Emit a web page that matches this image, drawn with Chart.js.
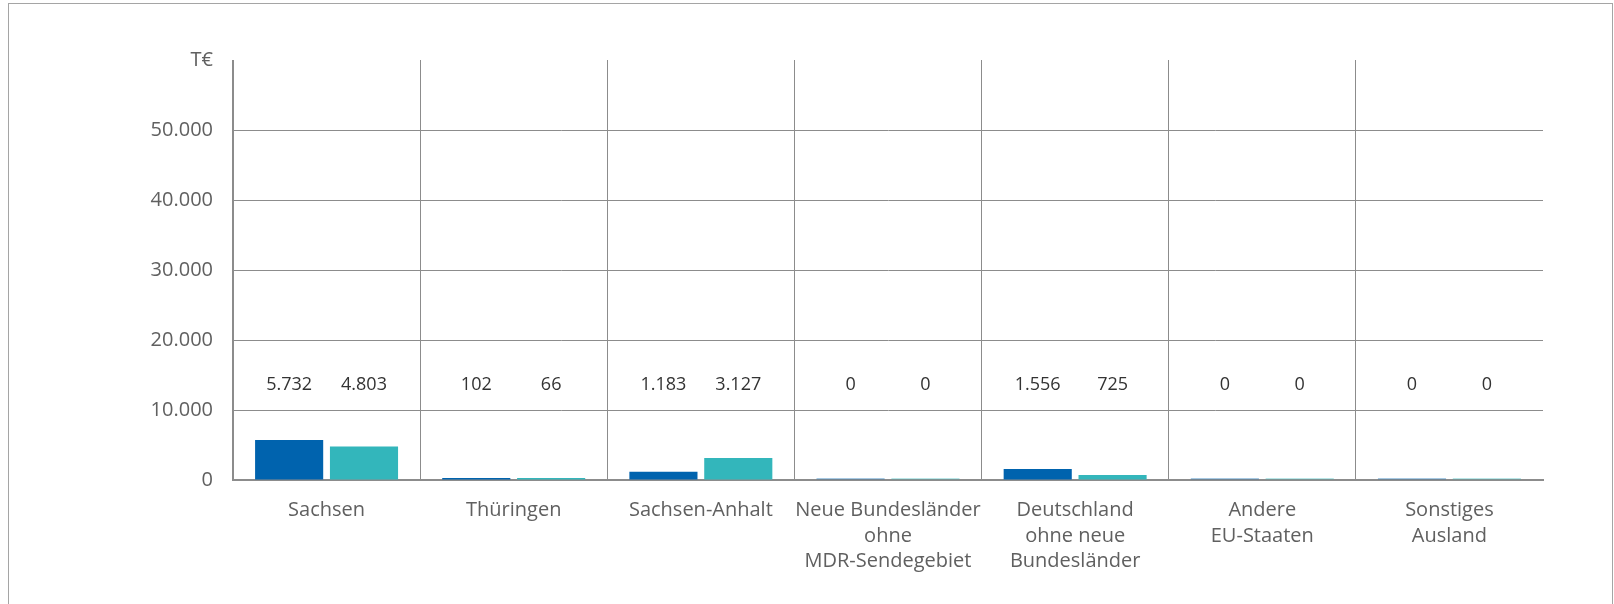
<!DOCTYPE html>
<html>
<head>
<meta charset="utf-8">
<script src="https://cdn.jsdelivr.net/npm/chart.js@4"></script>
<style>
  html, body { margin: 0; padding: 0; background: #fff; overflow: hidden; }
  #frame { position: absolute; left: 8px; top: 3px; width: 1603px; height: 640px; border: 1px solid #a5a5a5; }
  #wrap { position: absolute; left: 0; top: 0; width: 1614px; height: 604px; }
</style>
</head>
<body>
<div id="frame"></div>
<div id="wrap"><canvas id="myChart"></canvas></div>
<script>
const categories = [
    'Sachsen',
    'Thüringen',
    'Sachsen-Anhalt',
    ['Neue Bundesländer', 'ohne', 'MDR-Sendegebiet'],
    ['Deutschland', 'ohne neue', 'Bundesländer'],
    ['Andere', 'EU-Staaten'],
    ['Sonstiges', 'Ausland']
]
const seriesA = [5732, 102, 1183, 0, 1556, 0, 0]
const seriesB = [4803, 66, 3127, 0, 725, 0, 0]
const yTicks = [0, 10000, 20000, 30000, 40000, 50000, 60000]
const unitLabel = 'T€'

const fmt = (v) => v.toLocaleString('de-DE')

const gridGrey = '#8c8c8c'

// value labels in a row above the bars
const valueLabels = {
    id: 'valueLabels',
    afterDatasetsDraw(chart) {
        const ctx = chart.ctx
        const y = chart.scales.y.getPixelForValue(13600)
        ctx.save()
        ctx.font = '18px "Open Sans"'
        ctx.fillStyle = '#333'
        ctx.textAlign = 'center'
        ctx.textBaseline = 'middle'
        chart.data.datasets.forEach((ds, i) => {
            chart.getDatasetMeta(i).data.forEach((bar, j) => {
                ctx.fillText(fmt(ds.data[j]), bar.x, y)
            })
        })
        ctx.restore()
    }
}

// zero values only leave a faint trace on the baseline
const barColor = (col, faint) => (c) => c.raw === 0 ? faint : col

new Chart(document.getElementById('myChart'), {
    type: 'bar',
    data: {
        labels: categories,
        datasets: [{
            data: seriesA,
            backgroundColor: barColor('#0063ae', 'rgba(0,99,174,0.35)'),
            minBarLength: 2,
            categoryPercentage: 0.8,
            barPercentage: 0.91
        }, {
            data: seriesB,
            backgroundColor: barColor('#33b6bb', 'rgba(51,182,187,0.35)'),
            minBarLength: 2,
            categoryPercentage: 0.8,
            barPercentage: 0.91
        }]
    },
    options: {
        responsive: true,
        maintainAspectRatio: false,
        animation: false,
        layout: { padding: { top: 60, right: 71, left: 0, bottom: 0 } },
        plugins: {
            legend: { display: false },
            tooltip: { enabled: false }
        },
        scales: {
            x: {
                grid: {
                    offset: true,
                    drawTicks: false,
                    color: (c) => c.type !== 'tick' ? 'rgba(0,0,0,0)' : gridGrey,
                    lineWidth: 1
                },
                border: { display: true, color: gridGrey, width: 2 },
                ticks: {
                    color: '#606060',
                    font: { family: 'Open Sans', size: 20, lineHeight: 1.27 },
                    padding: 18,
                    maxRotation: 0,
                    autoSkip: false
                },
                afterFit: (scale) => { scale.height = 124 }
            },
            y: {
                min: 0,
                max: 60000,
                afterBuildTicks: (scale) => { scale.ticks = yTicks.map(v => ({ value: v })) },
                grid: {
                    drawTicks: false,
                    color: (c) => (c.tick && (c.tick.value === 60000 || c.tick.value === 0)) ? 'rgba(0,0,0,0)' : gridGrey,
                    lineWidth: 1
                },
                border: { display: true, color: gridGrey, width: 1 },
                ticks: {
                    color: '#606060',
                    font: { family: 'Open Sans', size: 20 },
                    padding: 20,
                    callback: (v) => v === 60000 ? unitLabel : fmt(v)
                },
                afterFit: (scale) => { scale.width = 233 }
            }
        }
    },
    plugins: [valueLabels]
})
</script>
</body>
</html>
